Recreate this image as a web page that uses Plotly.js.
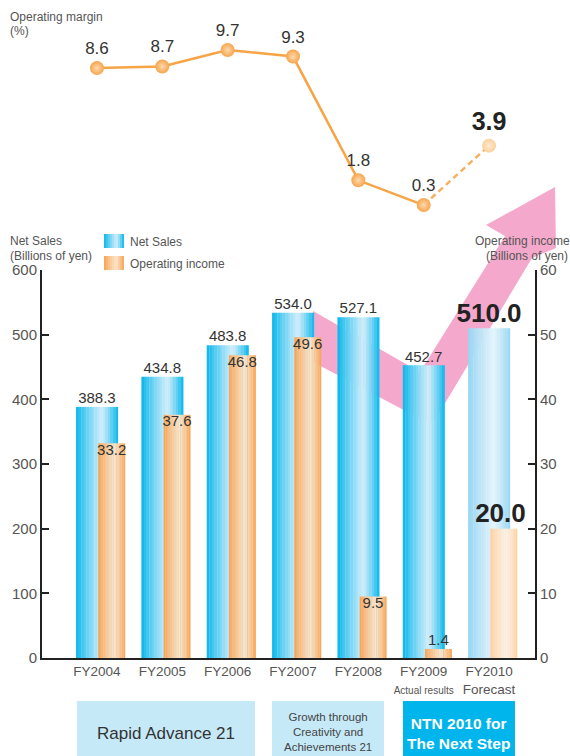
<!DOCTYPE html>
<html>
<head>
<meta charset="utf-8">
<script src="https://cdn.plot.ly/plotly-3.0.1.min.js"></script>
<style>
html,body{margin:0;padding:0;background:#fff;}
#chart{width:570px;height:756px;}
</style>
</head>
<body>
<div id="chart"></div>
<script>
// ---------------- DATA ----------------
const categories = ['FY2004', 'FY2005', 'FY2006', 'FY2007', 'FY2008', 'FY2009', 'FY2010'];
const tickLabels = ['FY2004', 'FY2005', 'FY2006', 'FY2007', 'FY2008',
  'FY2009<br><span style="font-size:10px">Actual results</span>',
  'FY2010<br>Forecast'];
const netSales = [388.3, 434.8, 483.8, 534.0, 527.1, 452.7, 510.0];
const operatingIncome = [33.2, 37.6, 46.8, 49.6, 9.5, 1.4, 20.0];
const operatingMargin = [8.6, 8.7, 9.7, 9.3, 1.8, 0.3, 3.9];
const isForecast = [false, false, false, false, false, false, true];
const leftTicks = [0, 100, 200, 300, 400, 500, 600];
const rightTicks = [0, 10, 20, 30, 40, 50, 60];

// ---------------- HELPERS ----------------
const W = 570, H = 756;
const px = x => x / W;
const py = y => 1 - y / H;
const xIdx = categories.map((c, i) => i);

function hex2rgb(h) { h = h.replace('#', ''); return [0, 2, 4].map(i => parseInt(h.substr(i, 2), 16)); }
function mix(a, b, t) {
  const A = hex2rgb(a), B = hex2rgb(b);
  return 'rgb(' + A.map((v, i) => Math.round(v + (B[i] - v) * t)).join(',') + ')';
}
function profile(t, peak) {
  let l = t < peak ? t / peak : (1 - t) / (1 - peak);
  return Math.pow(Math.max(0, Math.min(1, l)), 0.85);
}
const N = 16;
function gradStrips(values, yaxis, w, off, edges, lights, peak) {
  const tr = [];
  for (let k = 0; k < N; k++) {
    const t = (k + 0.5) / N;
    const l = profile(t, peak);
    tr.push({
      type: 'bar', x: xIdx, y: values, xaxis: 'x', yaxis: yaxis,
      width: w / N * 1.1, offset: off + k * w / N,
      marker: { color: values.map((v, i) => mix(edges[i], lights[i], l)), line: { width: 0 } },
      hoverinfo: 'skip', showlegend: false
    });
  }
  return tr;
}

const blueEdge = isForecast.map(f => f ? '#94d4f2' : '#00b5eb');
const blueLight = isForecast.map(f => f ? '#e4f4fc' : '#d2eefb');
const orEdge = isForecast.map(f => f ? '#fccf9e' : '#f6a04e');
const orLight = isForecast.map(f => f ? '#fff2e4' : '#fee5ca');

const BW = 0.64, BOFF = -0.32, OW = 0.41, OOFF = 0.02;

const fontReg = 'Liberation Sans, Arial, sans-serif';

let traces = [];
traces = traces.concat(gradStrips(netSales, 'y', BW, BOFF, blueEdge, blueLight, 0.62));
traces = traces.concat(gradStrips(operatingIncome, 'y2', OW, OOFF, orEdge, orLight, 0.6));

// value labels for net sales
const actIdx = xIdx.filter(i => !isForecast[i]);
const fcIdx = xIdx.filter(i => isForecast[i]);
traces.push({
  type: 'scatter', mode: 'text', xaxis: 'x', yaxis: 'y',
  x: actIdx, y: actIdx.map(i => netSales[i]), text: actIdx.map(i => netSales[i].toFixed(1)),
  textposition: 'top center', textfont: { family: fontReg, size: 15, color: '#333' },
  hoverinfo: 'skip', showlegend: false, cliponaxis: false
});
traces.push({
  type: 'scatter', mode: 'text', xaxis: 'x', yaxis: 'y',
  x: fcIdx, y: fcIdx.map(i => netSales[i]), text: fcIdx.map(i => netSales[i].toFixed(1)),
  textposition: 'top center', textfont: { family: fontReg, size: 26, color: '#222', weight: 'bold' },
  hoverinfo: 'skip', showlegend: false, cliponaxis: false
});
// value labels for operating income
const oCenter = OOFF + OW / 2;
traces.push({
  type: 'scatter', mode: 'text', xaxis: 'x', yaxis: 'y2',
  x: actIdx.map(i => i + oCenter), y: actIdx.map(i => operatingIncome[i]),
  text: actIdx.map(i => operatingIncome[i].toFixed(1)),
  textposition: actIdx.map(i => operatingIncome[i] < 5 ? 'top center' : 'bottom center'),
  textfont: { family: fontReg, size: 15, color: '#333' },
  hoverinfo: 'skip', showlegend: false, cliponaxis: false
});
traces.push({
  type: 'scatter', mode: 'text', xaxis: 'x', yaxis: 'y2',
  x: fcIdx.map(i => i + oCenter - 0.05), y: fcIdx.map(i => operatingIncome[i]),
  text: fcIdx.map(i => operatingIncome[i].toFixed(1)),
  textposition: 'top center', textfont: { family: fontReg, size: 26, color: '#222', weight: 'bold' },
  hoverinfo: 'skip', showlegend: false, cliponaxis: false
});

// operating margin line
const lineColor = '#f6a445';
traces.push({
  type: 'scatter', mode: 'lines', xaxis: 'x2', yaxis: 'y3',
  x: [actIdx[actIdx.length - 1], fcIdx[0]],
  y: [operatingMargin[actIdx[actIdx.length - 1]], operatingMargin[fcIdx[0]]],
  line: { color: '#f8b060', width: 2.5, dash: '6px,4px' },
  hoverinfo: 'skip', showlegend: false, cliponaxis: false
});
traces.push({
  type: 'scatter', mode: 'lines+markers+text', xaxis: 'x2', yaxis: 'y3',
  x: actIdx, y: actIdx.map(i => operatingMargin[i]), text: actIdx.map(i => operatingMargin[i].toFixed(1)),
  textposition: 'top center', textfont: { family: fontReg, size: 17, color: '#333' },
  line: { color: lineColor, width: 2.5 },
  marker: { size: 14, color: '#f7a54c', gradient: { type: 'radial', color: '#fdd9ae' } },
  hoverinfo: 'skip', showlegend: false, cliponaxis: false
});
traces.push({
  type: 'scatter', mode: 'markers+text', xaxis: 'x2', yaxis: 'y3',
  x: fcIdx, y: fcIdx.map(i => operatingMargin[i]), text: fcIdx.map(i => operatingMargin[i].toFixed(1)),
  textposition: 'top center', textfont: { family: fontReg, size: 25, color: '#222', weight: 'bold' },
  marker: { size: 14, color: '#fcd09c', gradient: { type: 'radial', color: '#feebd3' } },
  hoverinfo: 'skip', showlegend: false, cliponaxis: false
});

// ---------------- LAYOUT ----------------
const xRange = [-55 / 65.4, 6 + 46 / 65.4];
const xDomain = [px(42), px(535)];
const barDomain = [py(658), py(270)];
const lineDomain = [py(215), py(30)];
const lineRange = [(210 - 215) / 16.5, (210 - 30) / 16.5];

const axisCommon = {
  showgrid: false, zeroline: false, showline: true, linecolor: '#222', linewidth: 2,
  ticks: 'inside', ticklen: 7, tickwidth: 2, tickcolor: '#222',
  tickfont: { family: fontReg, size: 15, color: '#555' }
};

// pink arrow (decoration)
const arrowPts = [[313, 311], [420, 372], [505, 236], [486, 225], [555, 187], [556, 248], [532, 258], [432, 425], [313, 362]];
const arrowPath = 'M ' + arrowPts.map(p => px(p[0]).toFixed(5) + ',' + py(p[1]).toFixed(5)).join(' L ') + ' Z';

const shapes = [
  { type: 'path', path: arrowPath, xref: 'paper', yref: 'paper', fillcolor: '#f4a9cc', line: { width: 0 }, layer: 'below' },
  // programme boxes
  { type: 'rect', xref: 'paper', yref: 'paper', x0: px(77), x1: px(255), y0: py(756), y1: py(701), fillcolor: '#c6e9f8', line: { width: 0 }, layer: 'below' },
  { type: 'rect', xref: 'paper', yref: 'paper', x0: px(272), x1: px(384), y0: py(756), y1: py(701), fillcolor: '#c6e9f8', line: { width: 0 }, layer: 'below' },
  { type: 'rect', xref: 'paper', yref: 'paper', x0: px(403), x1: px(515), y0: py(756), y1: py(701), fillcolor: '#00b5ec', line: { width: 0 }, layer: 'below' }
];
// legend swatches with gradient strips
function swatch(x0, x1, y0, y1, edge, light, peak) {
  const n = 10;
  for (let k = 0; k < n; k++) {
    const t = (k + 0.5) / n;
    const a = x0 + (x1 - x0) * k / n, b = x0 + (x1 - x0) * (k + 1.1) / n;
    shapes.push({ type: 'rect', xref: 'paper', yref: 'paper', x0: px(a), x1: px(Math.min(b, x1)), y0: py(y1), y1: py(y0),
      fillcolor: mix(edge, light, profile(t, peak)), line: { width: 0 } });
  }
}
swatch(104, 124, 234, 248, '#00b5eb', '#d2eefb', 0.62);
swatch(104, 124, 256, 270, '#f6a04e', '#fee5ca', 0.6);

const ann = (x, y, text, opts) => Object.assign({
  xref: 'paper', yref: 'paper', x: px(x), y: py(y), text: text, showarrow: false,
  xanchor: 'left', yanchor: 'middle', font: { family: fontReg, size: 12, color: '#555' }
}, opts || {});

const annotations = [
  ann(8, 17, 'Operating margin'),
  ann(8, 31, '(%)'),
  ann(8, 241, 'Net Sales'),
  ann(8, 256, '(Billions of yen)'),
  ann(572, 241, 'Operating income', { xanchor: 'right' }),
  ann(570, 256, '(Billions of yen)', { xanchor: 'right' }),
  ann(128, 242, 'Net Sales'),
  ann(128, 264, 'Operating income'),
  ann(166, 733, 'Rapid Advance 21', { xanchor: 'center', font: { family: fontReg, size: 17, color: '#333' } }),
  ann(328, 732, 'Growth through<br>Creativity and<br>Achievements 21', { xanchor: 'center', font: { family: fontReg, size: 11.5, color: '#444' } }),
  ann(459, 733, 'NTN 2010 for<br>The Next Step', { xanchor: 'center', font: { family: fontReg, size: 15.5, color: '#fff', weight: 'bold' } })
];

const layout = {
  width: W, height: H,
  margin: { l: 0, r: 0, t: 0, b: 0, pad: 0 },
  paper_bgcolor: '#fff', plot_bgcolor: 'rgba(0,0,0,0)',
  barmode: 'overlay', showlegend: false,
  xaxis: {
    domain: xDomain, range: xRange, anchor: 'y',
    tickvals: xIdx, ticktext: tickLabels, ticks: '',
    showgrid: false, zeroline: false, showline: true, linecolor: '#222', linewidth: 2,
    tickfont: { family: fontReg, size: 13.5, color: '#555' }
  },
  yaxis: Object.assign({}, axisCommon, { domain: barDomain, range: [0, 600], tickvals: leftTicks, anchor: 'x' }),
  yaxis2: Object.assign({}, axisCommon, { overlaying: 'y', side: 'right', range: [0, 60], tickvals: rightTicks, anchor: 'x' }),
  xaxis2: { domain: xDomain, range: xRange, anchor: 'y3', visible: false },
  yaxis3: { domain: lineDomain, range: lineRange, anchor: 'x2', visible: false },
  shapes: shapes,
  annotations: annotations
};

Plotly.newPlot('chart', traces, layout, { staticPlot: true, displayModeBar: false });
</script>
</body>
</html>
